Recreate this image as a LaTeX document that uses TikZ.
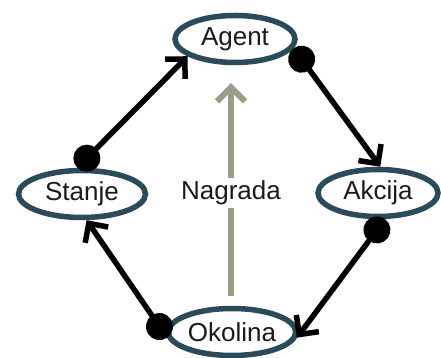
\documentclass[tikz,border=0pt]{standalone}
\usepackage{fontspec}
\setmainfont{Liberation Sans}
\usepackage{xcolor}
\usetikzlibrary{shapes.geometric,arrows.meta}
\definecolor{rimblue}{HTML}{2B4A5A}
\definecolor{rewardgray}{HTML}{9A9E86}
\definecolor{textgray}{HTML}{1A1A1A}

\begin{document}
\begin{tikzpicture}[x=1pt,y=1pt,
	state/.style={ellipse, draw=rimblue, line width=5.5pt, fill=white, text=textgray,
		minimum width=120pt, minimum height=47pt, inner sep=1pt,
		font=\fontsize{26}{30}\selectfont},
	link/.style={line width=5.5pt, {Circle[length=27pt]}-{Straight Barb[length=14pt,width=28pt]}},
	reward/.style={line width=6pt, draw=rewardgray}]
\useasboundingbox (0,0) rectangle (441,358);
% the four states
\node[state] (agent) at (235,319) {Agent};
\node[state, minimum width=127pt] (stanje) at (82,164) {Stanje};
\node[state] (akcija) at (378,165) {Akcija};
\node[state, minimum width=125pt] (okolina) at (232,26) {Okolina};
% the loop
\draw[link] (stanje.100) -- (agent.200);
\draw[link] (agent.-9) -- (akcija.85);
\draw[link] (akcija.-75) -- (okolina.-5);
\draw[link] (okolina.185) -- (stanje.-80);
% reward
\node[text=textgray, font=\fontsize{26}{30}\selectfont, inner sep=3pt] (nagrada) at (231,165) {Nagrada};
\draw[reward, shorten <=10pt] (okolina.north -| nagrada) -- (nagrada.south);
\draw[reward, -{Straight Barb[length=14pt,width=28pt]}, shorten >=18pt] (nagrada.north) -- (nagrada |- agent.south);
\end{tikzpicture}
\end{document}
